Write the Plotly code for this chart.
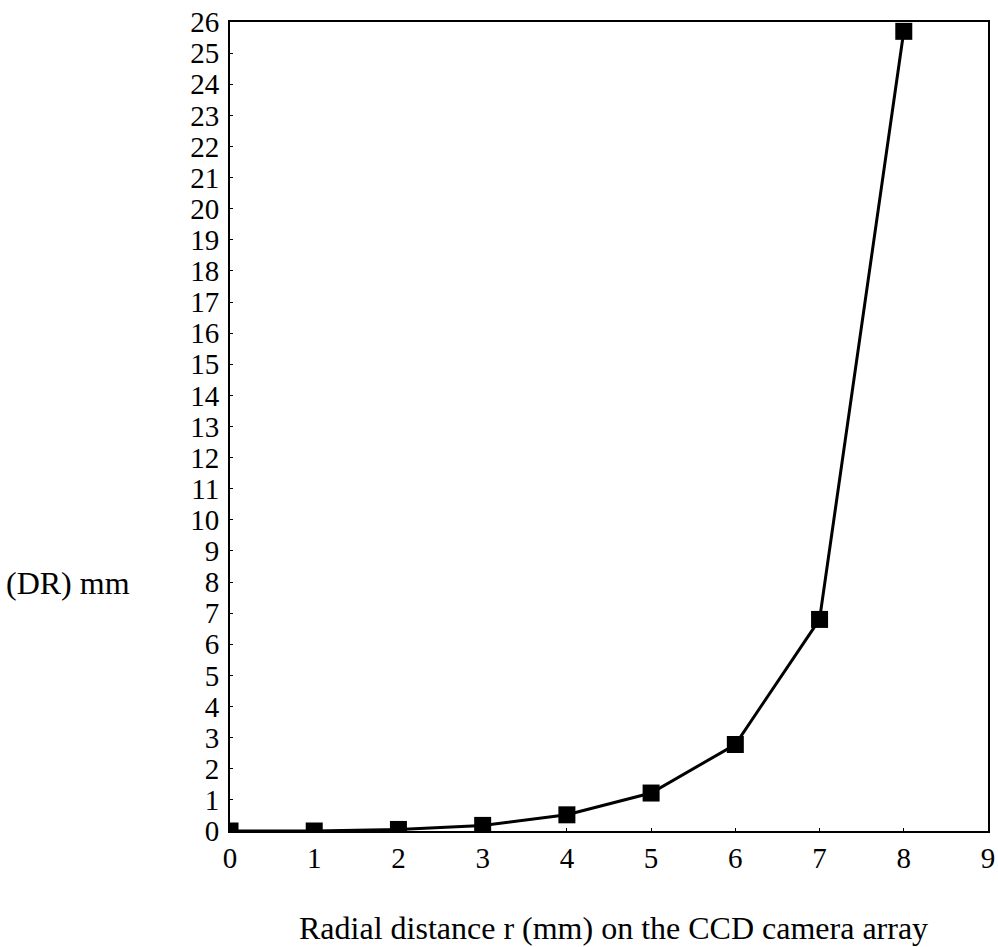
import plotly.graph_objects as go

r_mm = [0, 1, 2, 3, 4, 5, 6, 7, 8]
dr_mm = [0.0, 0.0, 0.05, 0.18, 0.52, 1.22, 2.78, 6.8, 25.7]
x_ticks = list(range(0, 10))
y_ticks = list(range(0, 27))

fig = go.Figure()
fig.add_trace(go.Scatter(
    x=r_mm, y=dr_mm, mode="lines+markers",
    line=dict(color="black", width=3),
    marker=dict(symbol="square", size=17, color="black"),
    cliponaxis=True, showlegend=False,
))

font = dict(family="Liberation Serif", size=29, color="black")
fig.update_layout(
    width=998, height=947,
    margin=dict(l=230, r=10, t=22, b=116),
    paper_bgcolor="white", plot_bgcolor="white",
    font=font,
    xaxis=dict(range=[0, 9], tickvals=x_ticks, showgrid=False, zeroline=False,
               showline=True, linecolor="black", linewidth=2, mirror=True,
               ticks="inside", ticklen=3, tickcolor="black", tickfont=font,
               automargin=False, ticklabeloverflow="allow"),
    yaxis=dict(range=[0, 26], tickvals=y_ticks, showgrid=False, zeroline=False,
               showline=True, linecolor="black", linewidth=2, mirror=True,
               ticks="inside", ticklen=3, tickcolor="black", tickfont=font,
               ticklabelstandoff=3, automargin=False, ticklabeloverflow="allow"),
    annotations=[
        dict(text="(DR) mm", xref="paper", yref="paper", x=-0.1293, y=0.3066,
             xanchor="right", yanchor="middle", showarrow=False,
             font=dict(family="Liberation Serif", size=32, color="black")),
        dict(text="Radial distance r (mm) on the CCD camera array", xref="paper", yref="paper",
             x=0.506, y=-0.12, xanchor="center", yanchor="middle", showarrow=False,
             font=dict(family="Liberation Serif", size=32, color="black")),
    ],
)
fig.write_html(
    "out.html",
    config={"displayModeBar": False},
    post_script="document.body.style.margin='0';document.body.style.overflow='hidden';",
)
